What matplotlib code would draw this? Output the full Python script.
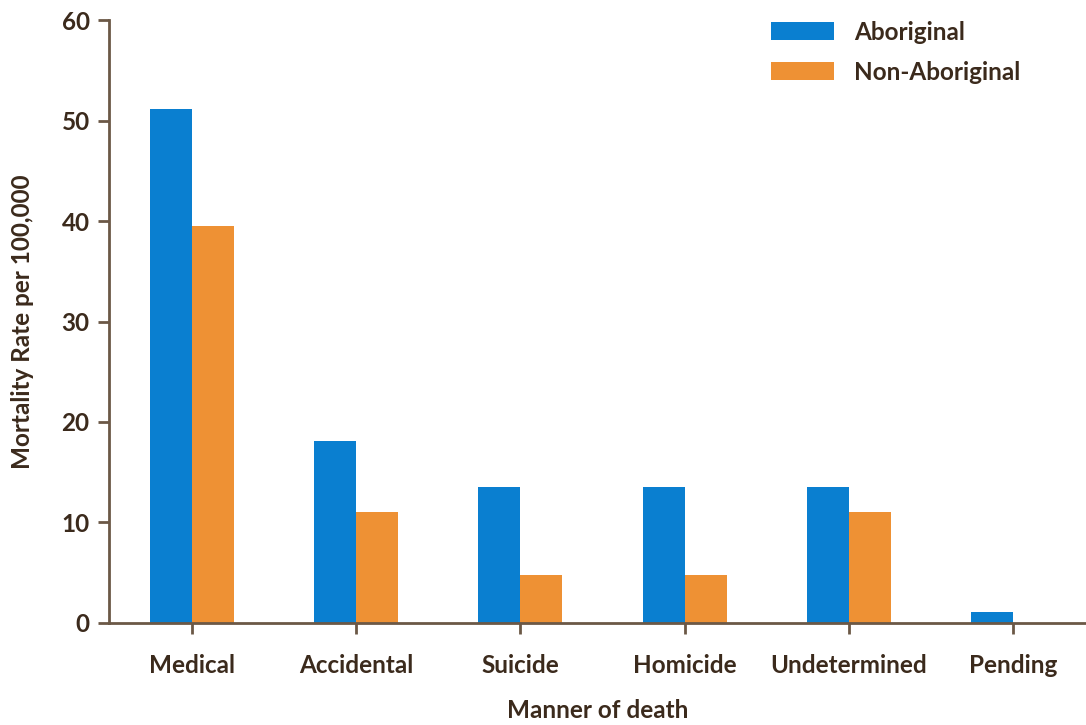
import matplotlib.pyplot as plt
import numpy as np

categories = ["Medical", "Accidental", "Suicide", "Homicide", "Undetermined", "Pending"]
aboriginal = [51.1, 18.1, 13.5, 13.5, 13.5, 1.1]
non_aboriginal = [39.5, 11.0, 4.8, 4.8, 11.0, 0.0]

text_col = "#3b2a1c"
spine_col = "#6b5846"
plt.rcParams['font.family'] = ['Lato', 'DejaVu Sans']
plt.rcParams['font.weight'] = 'bold'
plt.rcParams['axes.labelweight'] = 'bold'

fig = plt.figure(figsize=(10.86, 7.25), dpi=100)
ax = fig.add_axes([0.1004, 0.1407, 0.8996, 0.8317])

x = np.arange(len(categories))
w = 0.256
ax.bar(x - w / 2, aboriginal, w, color="#0a7fd0", label="Aboriginal")
ax.bar(x + w / 2, non_aboriginal, w, color="#ee9134", label="Non-Aboriginal")

ax.set_xlim(-0.506, 5.445)
ax.set_ylim(0, 60)
ax.set_yticks(range(0, 61, 10))
ax.set_xticks(x)
ax.set_xticklabels(categories)

for s in ["top", "right"]:
    ax.spines[s].set_visible(False)
for s in ["left", "bottom"]:
    ax.spines[s].set_color(spine_col)
    ax.spines[s].set_linewidth(2)

fs = 17.5
ax.tick_params(axis="both", colors=spine_col, width=2, length=8, labelsize=fs, labelcolor=text_col)
ax.tick_params(axis="x", pad=14)
ax.tick_params(axis="y", pad=6)

ax.set_xlabel("Manner of death", fontsize=fs, color=text_col, labelpad=16)
ax.set_ylabel("Mortality Rate per 100,000", fontsize=fs, color=text_col, labelpad=20)

ax.legend(loc="upper right", bbox_to_anchor=(0.955, 1.035), frameon=False, fontsize=fs,
          handlelength=2.6, handleheight=0.75, handletextpad=0.8, labelcolor=text_col,
          labelspacing=0.7)

plt.savefig("out.png", dpi=100)
